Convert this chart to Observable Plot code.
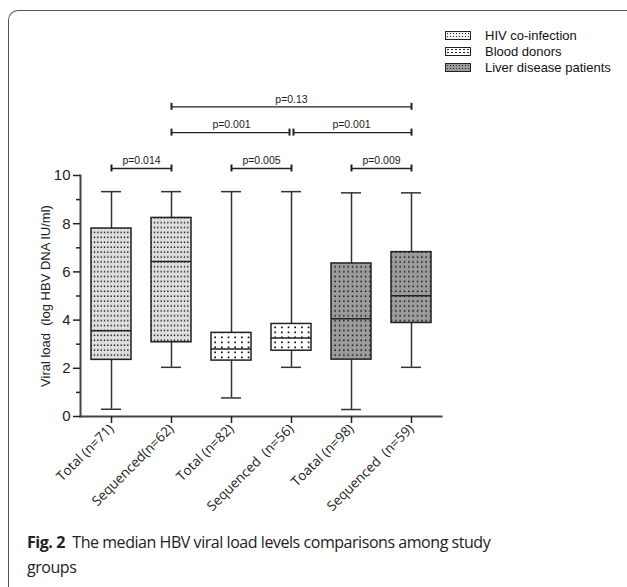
<!DOCTYPE html>
<html><head><meta charset="utf-8">
<script src="https://cdn.jsdelivr.net/npm/d3@7"></script>
<script src="https://cdn.jsdelivr.net/npm/@observablehq/plot@0.6"></script>
<style>
body{margin:0;background:#fff;width:627px;height:587px;overflow:hidden;position:relative;font-family:"Liberation Sans",Arial,sans-serif}
#frame{position:absolute;left:8px;top:10px;width:700px;height:700px;border-top:1.5px solid #555;border-left:1.5px solid #555;border-top-left-radius:10px;box-sizing:border-box}
#chart{position:absolute;left:0;top:0}
#legend{position:absolute;left:445px;top:27px;font-size:13px;color:#111}
.row{display:flex;align-items:center;height:16px;white-space:nowrap}
.sw{width:24px;height:7px;border:1px solid #222;margin-right:14px}
#caption{position:absolute;left:27px;top:530px;font-family:"Open Sans",sans-serif;font-size:16px;letter-spacing:-0.45px;line-height:25px;color:#222}
svg text{white-space:pre}
</style></head>
<body>
<div id="frame"></div>
<div id="chart"></div>
<div id="legend"></div>
<div id="caption"><b>Fig. 2</b>&nbsp; The median HBV viral load levels comparisons among study<br>groups</div>
<script>
const categories = ["Total (n=71)", "Sequenced(n=62)", "Total (n=82)", "Sequenced  (n=56)", "Toatal (n=98)", "Sequenced  (n=59)"];
const groups = ["HIV co-infection", "HIV co-infection", "Blood donors", "Blood donors", "Liver disease patients", "Liver disease patients"];
const minValues = [0.30, 2.04, 0.77, 2.04, 0.29, 2.04];
const q1Values = [2.35, 3.08, 2.32, 2.73, 2.36, 3.88];
const medianValues = [3.56, 6.43, 2.80, 3.26, 4.06, 5.01];
const q3Values = [7.80, 8.24, 3.47, 3.84, 6.35, 6.82];
const maxValues = [9.33, 9.33, 9.33, 9.33, 9.28, 9.28];

const groupNames = ["HIV co-infection", "Blood donors", "Liver disease patients"];
const groupFills = ["url(#pat-hiv)", "url(#pat-blood)", "url(#pat-liver)"];

const pLabels = ["p=0.014", "p=0.005", "p=0.009", "p=0.001", "p=0.001", "p=0.13"];
const pFrom = [0, 2, 4, 1, 3, 1];
const pTo = [1, 3, 5, 3, 5, 5];
const pLevel = [10.29, 10.29, 10.29, 11.78, 11.78, 12.85];

const yTicks = [0, 2, 4, 6, 8, 10];
const yMinorTicks = [1, 3, 5, 7, 9];
const yLabel = "Viral load  (log HBV DNA IU/ml)";

const boxes = categories.map((c, i) => ({
  category: c, group: groups[i], min: minValues[i], q1: q1Values[i],
  median: medianValues[i], q3: q3Values[i], max: maxValues[i]
}));
const comparisons = pLabels.map((label, i) => ({
  label, from: categories[pFrom[i]], to: categories[pTo[i]], level: pLevel[i]
}));
const joinsRight = c => comparisons.some(o => o !== c && o.level === c.level && o.from === c.to);
const joinsLeft = c => comparisons.some(o => o !== c && o.level === c.level && o.to === c.from);
const caps = comparisons.flatMap(c => [
  {x: c.from, level: c.level, shift: joinsLeft(c) ? 1 : 0},
  {x: c.to, level: c.level, shift: joinsRight(c) ? -1 : 0}
]);

const ink = "#222";
const half = 20;

const chart = Plot.plot({
  width: 627,
  height: 525,
  marginLeft: 80,
  marginRight: 186,
  marginTop: 175,
  marginBottom: 109,
  style: {fontFamily: "Liberation Sans, Arial, sans-serif", fontSize: "15px", color: ink, background: "transparent"},
  x: {domain: categories, paddingInner: 1/3, paddingOuter: 1/6, label: null},
  y: {domain: [0, 10], label: null},
  color: {type: "ordinal", domain: groupNames, range: groupFills},
  marks: [
    Plot.ruleX(boxes, {x: "category", y1: "q3", y2: "max", stroke: "#333", strokeWidth: 1.5}),
    Plot.ruleX(boxes, {x: "category", y1: "q1", y2: "min", stroke: "#333", strokeWidth: 1.5}),
    Plot.tickY(boxes, {x: "category", y: "max", insetLeft: 10, insetRight: 10, stroke: "#333", strokeWidth: 1.5}),
    Plot.tickY(boxes, {x: "category", y: "min", insetLeft: 10, insetRight: 10, stroke: "#333", strokeWidth: 1.5}),
    Plot.barY(boxes, {x: "category", y1: "q1", y2: "q3", fill: "group", stroke: ink, strokeWidth: 1.5}),
    Plot.tickY(boxes, {x: "category", y: "median", stroke: ink, strokeWidth: 1.5}),
    Plot.frame({anchor: "left", stroke: "#444", strokeWidth: 2}),
    Plot.frame({anchor: "bottom", stroke: "#444", strokeWidth: 2}),
    Plot.axisY({ticks: yTicks, tickSize: 7, tickPadding: 3, fontSize: 15, strokeWidth: 1.5, label: null}),
    Plot.axisY({ticks: yMinorTicks, tickSize: 4, tickFormat: () => "", strokeWidth: 1.5, label: null}),
    Plot.axisX({tickRotate: -45, tickSize: 7, tickPadding: 3, fontSize: 13.5, fontFamily: "Open Sans, sans-serif", strokeWidth: 1.5, label: null}),
    Plot.text([yLabel], {text: d => d, frameAnchor: "left", textAnchor: "middle", rotate: -90, dx: -35, fontSize: 13}),
    // significance brackets
    Plot.ruleY(comparisons.filter(c => !joinsLeft(c) && !joinsRight(c)), {x1: "from", x2: "to", y: "level", insetLeft: half, insetRight: half, stroke: ink, strokeWidth: 1.3}),
    Plot.ruleY(comparisons.filter(c => joinsRight(c)), {x1: "from", x2: "to", y: "level", insetLeft: half, insetRight: half + 2, stroke: ink, strokeWidth: 1.3}),
    Plot.ruleY(comparisons.filter(c => joinsLeft(c)), {x1: "from", x2: "to", y: "level", insetLeft: half + 2, insetRight: half, stroke: ink, strokeWidth: 1.3}),
    Plot.ruleX(caps.filter(d => d.shift === 0), {x: "x", y1: "level", y2: "level", insetTop: -3.5, insetBottom: -3.5, stroke: ink, strokeWidth: 2}),
    Plot.ruleX(caps.filter(d => d.shift === -1), {x: "x", y1: "level", y2: "level", dx: -2, insetTop: -3.5, insetBottom: -3.5, stroke: ink, strokeWidth: 2}),
    Plot.ruleX(caps.filter(d => d.shift === 1), {x: "x", y1: "level", y2: "level", dx: 2, insetTop: -3.5, insetBottom: -3.5, stroke: ink, strokeWidth: 2}),
    Plot.text(comparisons, {
      x: "from", y: "level", text: "label", dy: -7.5, fontSize: 10.5, fill: ink,
      render(index, scales, values, dimensions, context, next) {
        const X = Float64Array.from(comparisons, c => (scales.x(c.from) + scales.x(c.to)) / 2);
        return next(index, scales, {...values, x: X}, dimensions, context);
      }
    })
  ]
});

// dotted fill patterns
const defs = d3.select(chart).insert("defs", ":first-child");
function pattern(id, w, h, bg, dots, size) {
  const p = defs.append("pattern").attr("id", id).attr("patternUnits", "userSpaceOnUse")
    .attr("width", w).attr("height", h);
  p.append("rect").attr("width", w).attr("height", h).attr("fill", bg);
  dots.forEach(x => p.append("rect").attr("x", x).attr("y", 1.5).attr("width", size).attr("height", size).attr("fill", "#111"));
}
pattern("pat-hiv", 10, 4.9, "#dedede", [0.5, 3.8, 7.1], 1.4);
pattern("pat-blood", 20, 5, "#ffffff", [1, 7.7, 14.3], 1.7);
pattern("pat-liver", 13, 4.9, "#9c9c9c", [0.8, 5.1, 9.4], 1.5);

document.getElementById("chart").append(chart);

// legend
const legendBg = [
  "background-color:#f0f0f0;background-image:radial-gradient(circle,#222 0.6px,transparent 0.9px);background-size:3px 3px",
  "background-color:#fff;background-image:radial-gradient(circle,#222 0.6px,transparent 0.9px);background-size:4px 3px",
  "background-color:#9c9c9c;background-image:radial-gradient(circle,#222 0.6px,transparent 0.9px);background-size:3px 3px"
];
const legend = document.getElementById("legend");
groupNames.forEach((g, i) => {
  const row = document.createElement("div");
  row.className = "row";
  const sw = document.createElement("span");
  sw.className = "sw";
  sw.style.cssText = legendBg[i];
  const t = document.createElement("span");
  t.textContent = g;
  row.append(sw, t);
  legend.append(row);
});
</script>
</body></html>
